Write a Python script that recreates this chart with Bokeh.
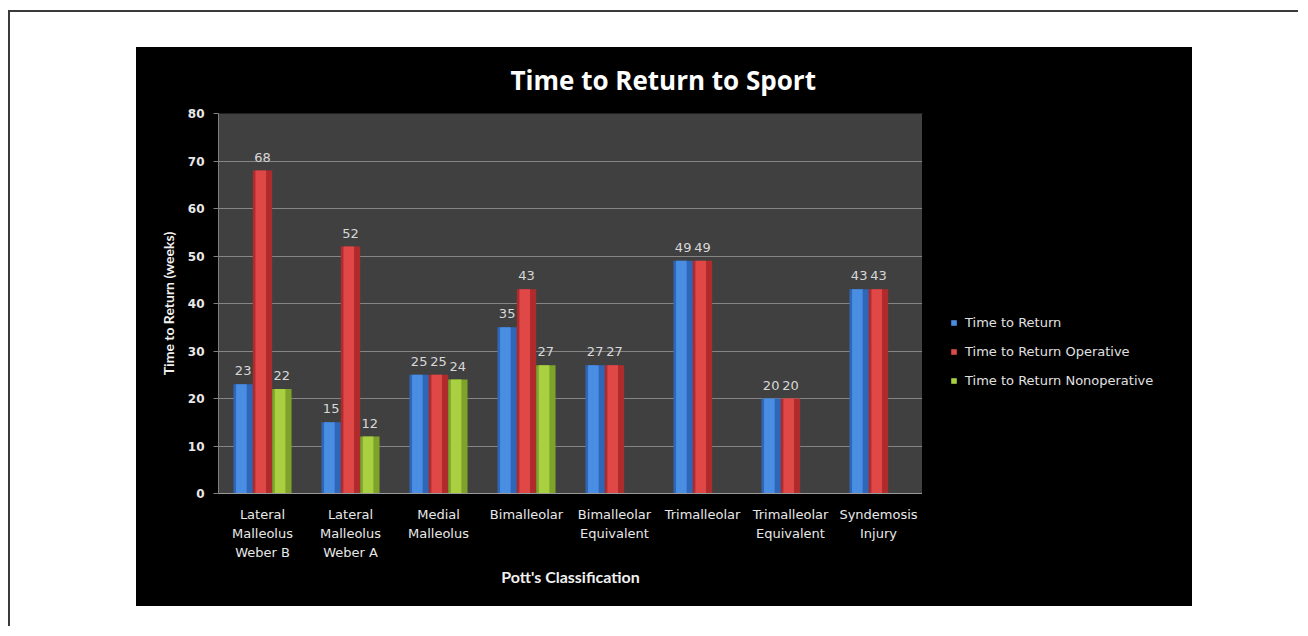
from bokeh.plotting import figure
from bokeh.models import (ColumnDataSource, Range1d, FixedTicker, LabelSet,
                          Legend, LegendItem, Title, LinearAxis)
from bokeh.transform import dodge
from bokeh.layouts import column, row
from bokeh.core.properties import value
from bokeh.embed import file_html
from bokeh.resources import INLINE

categories = ["Lateral Malleolus Weber B", "Lateral Malleolus Weber A", "Medial Malleolus",
              "Bimalleolar", "Bimalleolar Equivalent", "Trimalleolar",
              "Trimalleolar Equivalent", "Syndemosis Injury"]
tick_line1 = ["Lateral", "Lateral", "Medial", "Bimalleolar", "Bimalleolar", "Trimalleolar",
              "Trimalleolar", "Syndemosis"]
tick_line2 = ["Malleolus", "Malleolus", "Malleolus", "", "Equivalent", "", "Equivalent", "Injury"]
tick_line3 = ["Weber B", "Weber A", "", "", "", "", "", ""]
time_to_return = [23, 15, 25, 35, 27, 49, 20, 43]
time_operative = [68, 52, 25, 43, 27, 49, 20, 43]
time_nonoperative = [22, 12, 24, 27, None, None, None, None]
series_names = ["Time to Return", "Time to Return Operative", "Time to Return Nonoperative"]
y_ticks = [0, 10, 20, 30, 40, 50, 60, 70, 80]

FONT = "DejaVu Sans"
positions = list(range(1, len(categories) + 1))

p = figure(width=786, height=559, x_range=Range1d(0.5, len(categories) + 0.5),
           y_range=Range1d(0, 80), output_backend="svg", toolbar_location=None,
           min_border_left=82, min_border_right=0, min_border_top=66, min_border_bottom=113)
p.border_fill_color = "black"
p.background_fill_color = "#404040"
p.outline_line_color = None

series = [
    (time_to_return, -0.22, "#2f66b8", "#4a8ee4"),
    (time_operative, 0.0, "#b02c2c", "#e04848"),
    (time_nonoperative, 0.22, "#7fa22a", "#a8d040"),
]

for (vals, off, dark, light), name in zip(series, series_names):
    xs = [x for x, v in zip(positions, vals) if v is not None]
    vs = [v for v in vals if v is not None]
    src = ColumnDataSource(dict(x=xs, val=vs, lab=[str(v) for v in vs]))
    p.vbar(x=dodge("x", off), top="val", width=0.22, bottom=0,
           source=src, fill_color=dark, line_color=None)
    p.vbar(x=dodge("x", off - 0.02), top="val", width=0.12, bottom=0,
           source=src, fill_color=light, line_color=None)
    labels = LabelSet(x=dodge("x", off), y="val", text="lab", source=src,
                      text_align="center", text_baseline="bottom", y_offset=9,
                      text_color="#d8d8d8", text_font=value(FONT), text_font_size="13px")
    p.add_layout(labels)

p.yaxis.ticker = FixedTicker(ticks=y_ticks)
p.yaxis.major_tick_in = 0
p.yaxis.major_tick_out = 5
p.yaxis.minor_tick_line_color = None
p.yaxis.axis_line_color = "#808080"
p.yaxis.major_tick_line_color = "#808080"
p.yaxis.major_label_text_color = "#e8e8e8"
p.yaxis.major_label_text_font = FONT
p.yaxis.major_label_text_font_style = "bold"
p.yaxis.major_label_text_font_size = "12px"
p.yaxis.major_label_standoff = 9
p.yaxis.axis_label = "Time to Return (weeks)"
p.yaxis.axis_label_text_color = "#f0f0f0"
p.yaxis.axis_label_text_font = "Lato"
p.yaxis.axis_label_text_font_style = "bold"
p.yaxis.axis_label_text_font_size = "14px"
p.yaxis.axis_label_standoff = 8

# x axis: three stacked axes give the three lines of each category label
xa1 = p.xaxis[0]
extra = []
for lines, standoff in ((tick_line2, 1), (tick_line3, 1)):
    ax = LinearAxis()
    p.add_layout(ax, "below")
    extra.append((ax, lines, standoff))

for ax, lines, standoff in [(xa1, tick_line1, 13)] + extra:
    ax.ticker = FixedTicker(ticks=positions)
    ax.major_label_overrides = dict(zip(positions, lines))
    ax.major_tick_line_color = None
    ax.major_tick_out = 0
    ax.major_tick_in = 0
    ax.minor_tick_line_color = None
    ax.minor_tick_out = 0
    ax.major_label_text_color = "#e8e8e8"
    ax.major_label_text_font = FONT
    ax.major_label_text_font_size = "13px"
    ax.major_label_standoff = standoff
    ax.axis_line_color = None
xa1.axis_line_color = "#9a9a9a"

last = extra[-1][0]
last.axis_label = "Pott's Classification"
last.axis_label_text_color = "#f0f0f0"
last.axis_label_text_font = "Lato"
last.axis_label_text_font_style = "bold"
last.axis_label_text_font_size = "16px"
last.axis_label_standoff = 4

p.xgrid.grid_line_color = None
p.ygrid.grid_line_color = "#858585"
p.ygrid.grid_line_width = 1

title = Title(text="Time to Return to Sport", align="left", offset=292, text_color="white",
              text_font="Open Sans", text_font_style="bold", text_font_size="26px",
              vertical_align="top", standoff=27)
p.add_layout(title, "above")

# legend panel (black area to the right of the plot)
p2 = figure(width=270, height=559, x_range=Range1d(100, 101), y_range=Range1d(-2, -1),
            output_backend="svg", toolbar_location=None,
            x_axis_location=None, y_axis_location=None,
            min_border_left=0, min_border_right=0, min_border_top=0, min_border_bottom=0)
p2.border_fill_color = "black"
p2.background_fill_color = "black"
p2.outline_line_color = None
p2.xgrid.grid_line_color = None
p2.ygrid.grid_line_color = None

items = []
for (vals, off, dark, light), name in zip(series, series_names):
    # renderer lies outside p2's visible range; it only supplies the legend swatch
    r = p2.vbar(x=[positions[0]], top=[vals[0]], bottom=0, width=0.1,
                fill_color=light, line_color=None)
    items.append(LegendItem(label=name, renderers=[r]))

legend = Legend(items=items, location=(28, 103), background_fill_color="black",
                background_fill_alpha=1, border_line_color=None, padding=5, margin=0,
                spacing=9, label_height=20, glyph_width=7, glyph_height=7, label_standoff=8,
                label_text_color="#e0e0e0", label_text_font=FONT, label_text_font_size="13px")
p2.add_layout(legend)

inner = row(p, p2, margin=(35, 0, 0, 126), styles={"background-color": "black"})
layout = column(inner, width=1290, height=616, margin=(10, 0, 0, 8),
                styles={"border-top": "2px solid #3a3a3a", "border-left": "2px solid #3a3a3a",
                        "background": "white"})

open("out.html", "w").write(file_html(layout, INLINE))
